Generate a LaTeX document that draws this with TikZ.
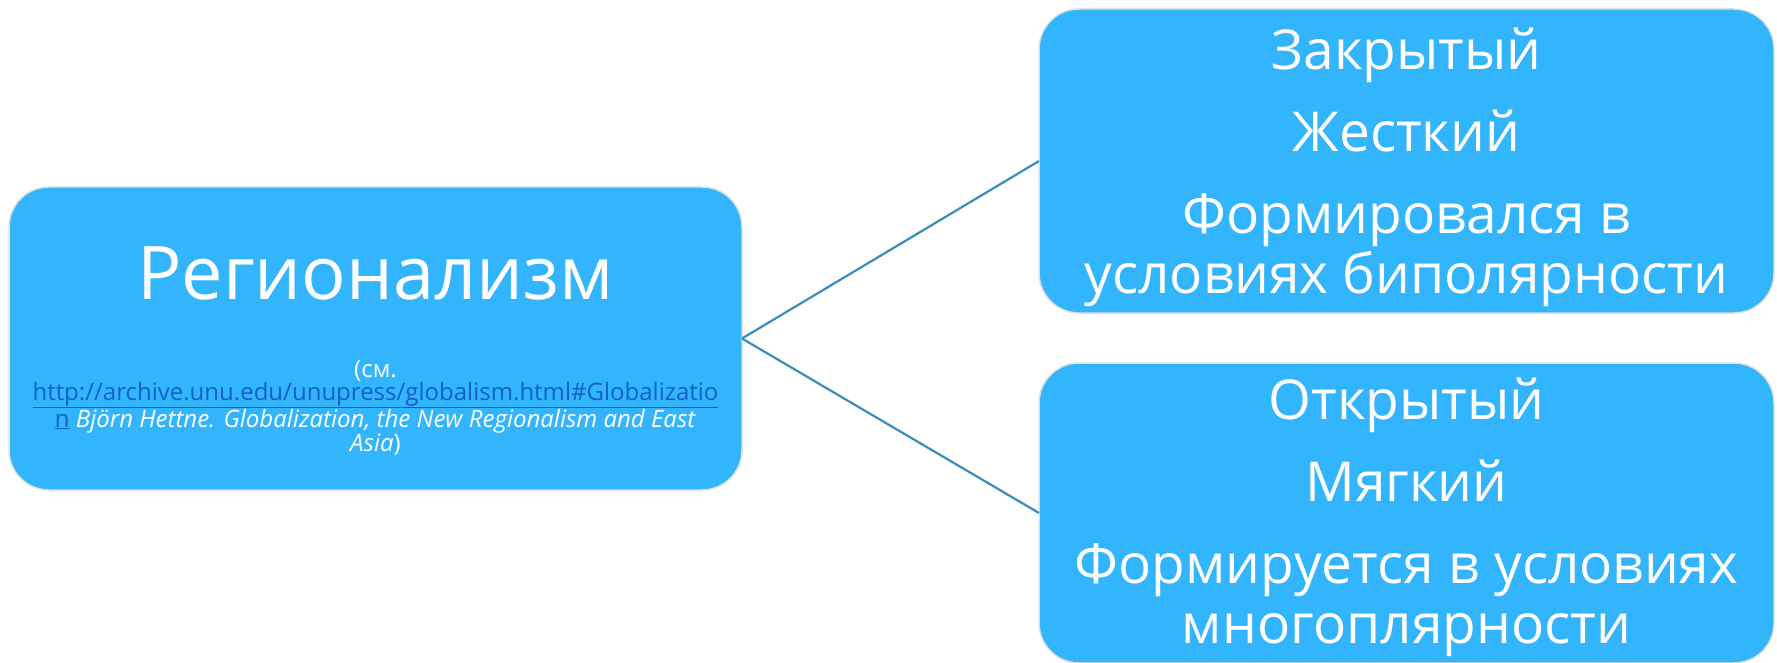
\documentclass[tikz,border=0pt]{standalone}
\usepackage{fontspec}
\setmainfont{Open Sans}
\usetikzlibrary{positioning}

\definecolor{boxblue}{HTML}{33B5FE}
\definecolor{edgeblue}{HTML}{3A8CBE}
\definecolor{linkblue}{HTML}{1060C8}

\tikzset{
  regbox/.style={rectangle, rounded corners=40pt, fill=boxblue, draw=black!12,
    line width=1.5pt, text=white, align=center, outer sep=0pt, inner sep=0pt},
  branch/.style={edgeblue, line width=2.2pt},
}

\begin{document}
\begin{tikzpicture}[x=1pt, y=-1pt]
    \useasboundingbox (0,0) rectangle (1777,663);
    % left: the root box
    \node (root) [regbox, minimum width=733pt, minimum height=303pt] at (375.5,338.5) {};
    \node (rootname) [text=white, font=\fontsize{74}{84}\selectfont] at (375.5,273) {Регионализм};
    \node (rootcite) [text=white, align=center, font=\fontsize{24}{22.5}\selectfont] at (375.5,408)
      {(см.\\
       \textcolor{linkblue}{\underline{http://archive.unu.edu/unupress/globalism.html\#Globalizatio}}\\
       \textcolor{linkblue}{\underline{n}} \textit{Björn Hettne. Globalization, the New Regionalism and East}\\
       \textit{Asia})};
    % right: the two kinds
    \node (closed) [regbox, minimum width=735pt, minimum height=304pt] at (1406.5,161) {};
    \node (closedtext) [text=white, align=center, font=\fontsize{55}{60}\selectfont] at (1406.5,167)
      {Закрытый\\[22pt] Жесткий\\[22pt] Формировался в\\ условиях биполярности};
    \node (open) [regbox, minimum width=735pt, minimum height=300pt] at (1406.5,513) {};
    \node (opentext) [text=white, align=center, font=\fontsize{55}{60}\selectfont] at (1406.5,517)
      {Открытый\\[22pt] Мягкий\\[22pt] Формируется в условиях\\ многоплярности};
    \draw[branch] (root.east) -- (closed.west);
    \draw[branch] (root.east) -- (open.west);
\end{tikzpicture}
\end{document}
